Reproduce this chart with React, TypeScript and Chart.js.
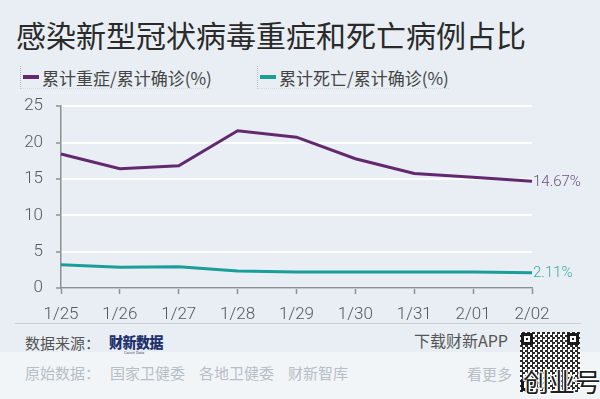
import React, { useEffect, useRef } from "react";
import { Chart, registerables } from "chart.js";

Chart.register(...registerables);

const title = "感染新型冠状病毒重症和死亡病例占比";
const categories = ["1/25", "1/26", "1/27", "1/28", "1/29", "1/30", "1/31", "2/01", "2/02"];
const severeShare = [18.42, 16.41, 16.8, 21.62, 20.74, 17.77, 15.76, 15.22, 14.67];
const deathShare = [3.19, 2.84, 2.92, 2.35, 2.21, 2.2, 2.2, 2.2, 2.11];
const seriesNames = ["累计重症/累计确诊(%)", "累计死亡/累计确诊(%)"];
const yTicks = [0, 5, 10, 15, 20, 25];

const PURPLE = "#63296f";
const TEAL = "#1b9e99";
const PURPLE_LABEL = "#6e4f7e";
const TEAL_LABEL = "#3aa9a2";
const AXIS = "#8c9196";
const CJK = '"Noto Sans CJK SC", "Noto Sans", sans-serif';
const LATIN = 'Roboto, "Liberation Sans", sans-serif';

const endLabels = {
  id: "endLabels",
  afterDatasetsDraw(chart: any) {
    const ctx = chart.ctx;
    const colors = [PURPLE_LABEL, TEAL_LABEL];
    chart.data.datasets.forEach((ds: any, i: number) => {
      const meta = chart.getDatasetMeta(i);
      const last = meta.data[meta.data.length - 1];
      if (!last) return;
      const v = ds.data[ds.data.length - 1];
      ctx.save();
      ctx.font = `300 15px ${LATIN}`;
      ctx.fillStyle = colors[i];
      ctx.textAlign = "left";
      ctx.textBaseline = "middle";
      ctx.fillText(`${v.toFixed(2)}%`, last.x + 1, last.y + 1);
      ctx.restore();
    });
  },
};

function QR() {
  const finder = (style: React.CSSProperties) => (
    <div
      style={{
        position: "absolute",
        width: 12,
        height: 12,
        border: "3px solid #1a1a1a",
        background: "#fff",
        boxSizing: "border-box",
        ...style,
      }}
    >
      <div style={{ position: "absolute", left: 2, top: 2, width: 2, height: 2, background: "#1a1a1a" }} />
    </div>
  );
  return (
    <div
      style={{
        position: "absolute",
        left: 520,
        top: 332,
        width: 60,
        height: 60,
        background: "#fff",
        backgroundImage:
          "repeating-conic-gradient(#2a2a2a 0 25%, #ffffff 0 50%), repeating-linear-gradient(45deg, rgba(0,0,0,0.5) 0 2px, transparent 2px 5px)",
        backgroundSize: "5px 5px, 9px 9px",
      }}
    >
      {finder({ left: 1, top: 1 })}
      {finder({ right: 1, top: 1 })}
      {finder({ left: 1, bottom: 1 })}
    </div>
  );
}

export default function App() {
  const canvasRef = useRef<HTMLCanvasElement | null>(null);

  useEffect(() => {
    if (!canvasRef.current) return;
    const chart = new Chart(canvasRef.current, {
      type: "line",
      data: {
        labels: categories,
        datasets: [
          {
            label: seriesNames[0],
            data: severeShare,
            borderColor: PURPLE,
            borderWidth: 3,
            pointRadius: 0,
            tension: 0,
            fill: false,
          },
          {
            label: seriesNames[1],
            data: deathShare,
            borderColor: TEAL,
            borderWidth: 3,
            pointRadius: 0,
            tension: 0,
            fill: false,
          },
        ],
      },
      options: {
        animation: false,
        responsive: false,
        devicePixelRatio: 1,
        layout: { padding: { top: 15, right: 68, left: 0, bottom: 0 } },
        plugins: {
          legend: { display: false },
          tooltip: { enabled: false },
        },
        scales: {
          x: {
            offset: false,
            afterFit: (s: any) => {
              s.height = 32;
            },
            grid: {
              drawOnChartArea: false,
              drawTicks: true,
              tickLength: 6,
              tickColor: AXIS,
              tickWidth: 1.5,
            },
            border: { color: AXIS, width: 1.5 },
            ticks: {
              padding: 11,
              color: "#555a5f",
              font: { family: LATIN, size: 17, weight: "300" as any },
              maxRotation: 0,
              autoSkip: false,
            },
          },
          y: {
            min: 0,
            max: 25,
            afterFit: (s: any) => {
              s.width = 61;
            },
            afterBuildTicks: (s: any) => {
              s.ticks = yTicks.map((v) => ({ value: v }));
            },
            grid: {
              color: "#ffffff",
              lineWidth: 2,
              drawTicks: true,
              tickLength: 5,
              tickColor: AXIS,
              tickWidth: 1.5,
            },
            border: { color: AXIS, width: 1.5 },
            ticks: {
              padding: 13,
              color: "#555a5f",
              font: { family: LATIN, size: 17, weight: "300" as any },
            },
          },
        },
      },
      plugins: [endLabels],
    });
    return () => chart.destroy();
  }, []);

  const legendItem = (left: number, color: string, text: string) => (
    <div
      style={{
        position: "absolute",
        left,
        top: 66,
        height: 22,
        paddingLeft: 2,
        borderLeft: "1px dotted #aeb6be",
        borderBottom: "1px dotted #d3d9df",
        display: "flex",
        alignItems: "center",
        fontFamily: CJK,
        fontSize: 17,
        color: "#444",
        whiteSpace: "nowrap",
      }}
    >
      <span style={{ display: "inline-block", width: 16, height: 4, background: color, marginRight: 3 }} />
      <span>{text}</span>
    </div>
  );

  return (
    <div
      style={{
        position: "relative",
        width: 600,
        height: 399,
        overflow: "hidden",
        background: "#e8eef3",
        fontFamily: CJK,
      }}
    >
      <style>{`body{margin:0}`}</style>
      <div
        style={{
          position: "absolute",
          left: 0,
          top: 352,
          width: 600,
          height: 47,
          background: "#f1f5f8",
        }}
      />
      <div
        style={{
          position: "absolute",
          left: 16,
          top: 14,
          fontSize: 30,
          lineHeight: "40px",
          color: "#2a2a2a",
          whiteSpace: "nowrap",
        }}
      >
        {title}
      </div>
      {legendItem(20, PURPLE, seriesNames[0])}
      {legendItem(257, TEAL, seriesNames[1])}
      <canvas
        ref={canvasRef}
        width={600}
        height={237}
        style={{ position: "absolute", left: 0, top: 83, width: 600, height: 237 }}
      />
      <div style={{ position: "absolute", left: 15, top: 323, width: 566, height: 1, background: "#c9ced3" }} />
      <div
        style={{
          position: "absolute",
          left: 25,
          top: 333,
          fontSize: 15,
          lineHeight: "20px",
          color: "#555",
          whiteSpace: "nowrap",
        }}
      >
        数据来源：
      </div>
      <div
        style={{
          position: "absolute",
          left: 109,
          top: 334,
          fontSize: 14,
          lineHeight: "16px",
          fontWeight: 900,
          color: "#22306e",
          letterSpacing: -0.5,
          whiteSpace: "nowrap",
          transform: "scaleY(1.05)",
        }}
      >
        财新数据
      </div>
      <div
        style={{
          position: "absolute",
          left: 124,
          top: 350,
          fontSize: 4,
          lineHeight: "5px",
          color: "#556",
          fontFamily: LATIN,
          whiteSpace: "nowrap",
        }}
      >
        Caixin Data
      </div>
      <div
        style={{
          position: "absolute",
          left: 414,
          top: 330,
          fontSize: 16,
          lineHeight: "20px",
          color: "#555",
          whiteSpace: "nowrap",
        }}
      >
        下载财新APP
      </div>
      <div
        style={{
          position: "absolute",
          left: 25,
          top: 363,
          fontSize: 15,
          lineHeight: "20px",
          color: "#b7bec5",
          whiteSpace: "nowrap",
        }}
      >
        原始数据：<span style={{ marginLeft: 10 }}>国家卫健委</span>
        <span style={{ marginLeft: 14 }}>各地卫健委</span>
        <span style={{ marginLeft: 14 }}>财新智库</span>
      </div>
      <div
        style={{
          position: "absolute",
          left: 467,
          top: 364,
          fontSize: 15,
          lineHeight: "20px",
          color: "#b7bec5",
          whiteSpace: "nowrap",
        }}
      >
        看更多
      </div>
      <QR />
      <div
        style={{
          position: "absolute",
          left: 523,
          top: 365,
          fontSize: 26,
          lineHeight: "32px",
          color: "#1e1e1e",
          whiteSpace: "nowrap",
          textShadow:
            "1px 0 0 #fff, -1px 0 0 #fff, 0 1px 0 #fff, 0 -1px 0 #fff, 1px 1px 0 #fff, -1px -1px 0 #fff, 1px -1px 0 #fff, -1px 1px 0 #fff",
        }}
      >
        创业号
      </div>
    </div>
  );
}
